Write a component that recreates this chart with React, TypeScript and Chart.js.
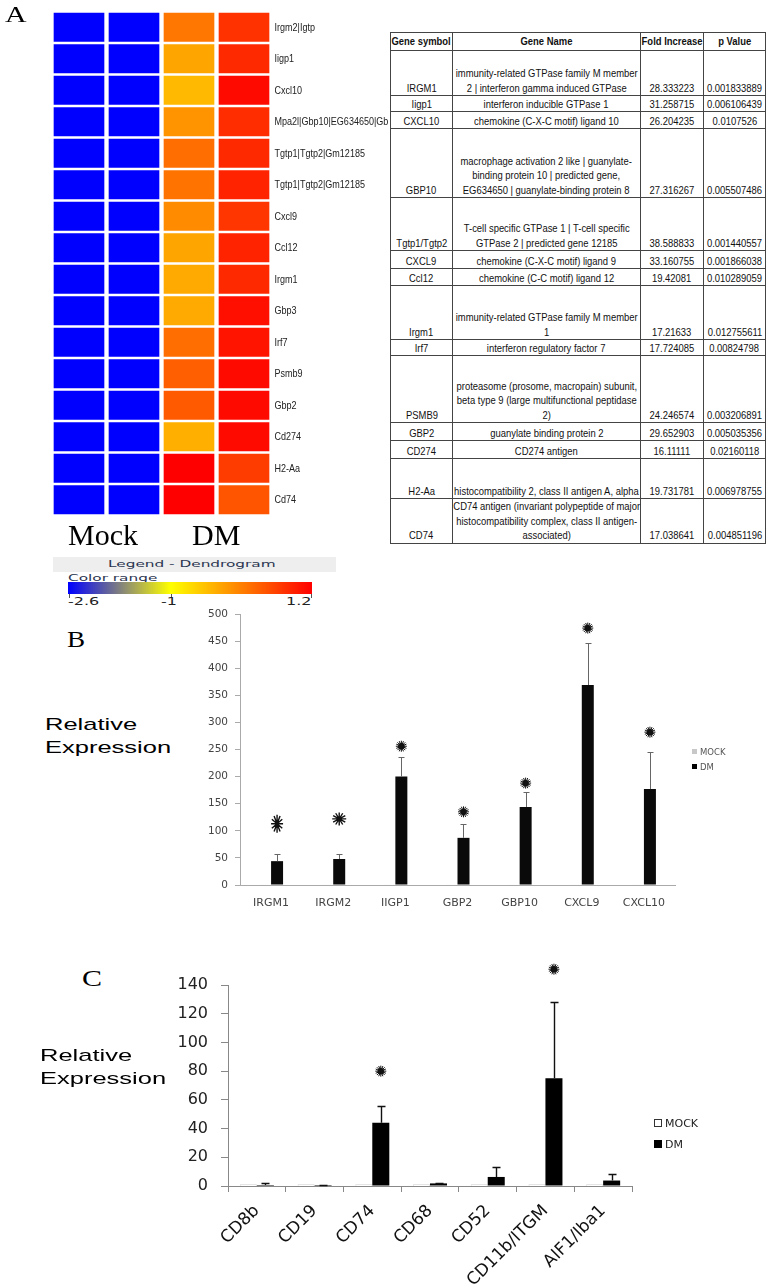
import React, { useEffect, useRef } from "react";
import { Chart, registerables } from "chart.js";

Chart.register(...registerables);

// ---------------- Panel A : heat map ----------------
const heatGenes = [
  "Irgm2|Igtp", "Iigp1", "Cxcl10", "Mpa2l|Gbp10|EG634650|Gbp8",
  "Tgtp1|Tgtp2|Gm12185", "Tgtp1|Tgtp2|Gm12185", "Cxcl9", "Ccl12",
  "Irgm1", "Gbp3", "Irf7", "Psmb9", "Gbp2", "Cd274", "H2-Aa", "Cd74",
];
const heatColumns = ["Mock 1", "Mock 2", "DM 1", "DM 2"];
const heatMock1 = [-2.6, -2.6, -2.6, -2.6, -2.6, -2.6, -2.6, -2.6, -2.6, -2.6, -2.6, -2.6, -2.6, -2.6, -2.6, -2.6];
const heatMock2 = [-2.6, -2.6, -2.6, -2.6, -2.6, -2.6, -2.6, -2.6, -2.6, -2.6, -2.6, -2.6, -2.6, -2.6, -2.6, -2.6];
const heatDM1 = [0.18, -0.22, -0.4, -0.08, 0.25, 0.21, -0.01, -0.22, -0.27, -0.27, 0.25, 0.38, 0.42, -0.31, 1.2, 1.2];
const heatDM2 = [0.77, 0.85, 1.11, 0.81, 0.85, 0.9, 0.73, 0.9, 0.85, 1.07, 1.03, 1.11, 1.11, 1.11, 0.68, 0.47];
const heatCellSpan = [1, 1, 1, 1, 1, 1, 1, 1, 1, 1, 1, 1, 1, 1, 1, 1];
const colorRangeMin = -2.6;
const colorRangeMid = -1;
const colorRangeMax = 1.2;
const colorRangeTicks = ["-2.6", "-1", "1.2"];

// ---------------- Panel A : table ----------------
const tableHeader = ["Gene symbol", "Gene Name", "Fold Increase", "p Value"];
const tableSymbols = ["IRGM1", "Iigp1", "CXCL10", "GBP10", "Tgtp1/Tgtp2", "CXCL9", "Ccl12", "Irgm1", "Irf7", "PSMB9", "GBP2", "CD274", "H2-Aa", "CD74"];
const tableNames = [
  "immunity-related GTPase family M member\n2 | interferon gamma induced GTPase",
  "interferon inducible GTPase 1",
  "chemokine (C-X-C motif) ligand 10",
  "macrophage activation 2 like | guanylate-\nbinding protein 10 | predicted gene,\nEG634650 | guanylate-binding protein 8",
  "T-cell specific GTPase 1 | T-cell specific\nGTPase 2 | predicted gene 12185",
  "chemokine (C-X-C motif) ligand 9",
  "chemokine (C-C motif) ligand 12",
  "immunity-related GTPase family M member\n1",
  "interferon regulatory factor 7",
  "proteasome (prosome, macropain) subunit,\nbeta type 9 (large multifunctional peptidase\n2)",
  "guanylate binding protein 2",
  "CD274 antigen",
  "histocompatibility 2, class II antigen A, alpha",
  "CD74 antigen (invariant polypeptide of major\nhistocompatibility complex, class II antigen-\nassociated)",
];
const tableFold = ["28.333223", "31.258715", "26.204235", "27.316267", "38.588833", "33.160755", "19.42081", "17.21633", "17.724085", "24.246574", "29.652903", "16.11111", "19.731781", "17.038641"];
const tablePValue = ["0.001833889", "0.006106439", "0.0107526", "0.005507486", "0.001440557", "0.001866038", "0.010289059", "0.012755611", "0.00824798", "0.003206891", "0.005035356", "0.02160118", "0.006978755", "0.004851196"];

// ---------------- Panel B ----------------
const genesB = ["IRGM1", "IRGM2", "IIGP1", "GBP2", "GBP10", "CXCL9", "CXCL10"];
const mockB = [1, 1, 1, 1, 1, 1, 1];
const dmB = [44, 48, 200, 87, 144, 369, 177];
const dmErrB = [13, 9, 36, 26, 28, 78, 68];
const starB = [113, 122, 256, 135, 188, 474, 282];
const seriesNames = ["MOCK", "DM"];

// ---------------- Panel C ----------------
const genesC = ["CD8b", "CD19", "CD74", "CD68", "CD52", "CD11b/ITGM", "AIF1/Iba1"];
const mockC = [1, 1, 1, 1, 1, 1, 1];
const dmC = [0.7, 0.7, 44, 1.8, 6.3, 75, 3.8];
const dmErrC = [1.3, 0.3, 11.7, 0.4, 6.9, 53, 4.5];
const starC = [null, null, 80, null, null, 151, null];

// ---------------- layout / style (not data) ----------------
const tableRowHeights = [45, 16, 17, 69, 53, 18, 17, 54, 16, 67, 18, 18, 40, 43];
const starShapesB = [
  { rx: 6, ry: 9, inner: 1.5, rays: 12, lw: 1.4 },
  { rx: 7, ry: 6.5, inner: 1.8, rays: 12, lw: 1.4 },
  { rx: 5.5, ry: 5.5, inner: 3.2, rays: 16, lw: 1 },
];
const starShapesC = [{ rx: 5.5, ry: 5.5, inner: 3.2, rays: 16, lw: 1 }];

const SERIF = "'Liberation Serif', 'DejaVu Serif', serif";
const SANS = "'Liberation Sans', Arial, sans-serif";
const DEJAVU = "'DejaVu Sans', sans-serif";
const NARROW_SCALE = 0.8;

function heatColor(v: number) {
  const t = Math.max(0, Math.min(1, (v - colorRangeMin) / (colorRangeMax - colorRangeMin)));
  const m = (colorRangeMid - colorRangeMin) / (colorRangeMax - colorRangeMin);
  let r: number, g: number, b: number;
  if (t <= m) {
    const u = t / m;
    r = 255 * u; g = 255 * u; b = 255 * (1 - u);
  } else {
    const u = (t - m) / (1 - m);
    r = 255; g = 255 * (1 - u); b = 0;
  }
  return `rgb(${Math.round(r)},${Math.round(g)},${Math.round(b)})`;
}

type Shape = { rx: number; ry: number; inner: number; rays: number; lw: number };

function drawBurst(ctx: CanvasRenderingContext2D, x: number, y: number, s: Shape) {
  ctx.save();
  ctx.strokeStyle = "#111";
  ctx.fillStyle = "#111";
  ctx.lineWidth = s.lw;
  ctx.beginPath();
  for (let k = 0; k < s.rays; k++) {
    const a = (Math.PI * 2 * k) / s.rays;
    ctx.moveTo(x, y);
    ctx.lineTo(x + s.rx * Math.cos(a), y + s.ry * Math.sin(a));
  }
  ctx.stroke();
  ctx.beginPath();
  ctx.arc(x, y, s.inner, 0, Math.PI * 2);
  ctx.fill();
  ctx.restore();
}

function makeMarks(cfg: {
  datasetIndex: number;
  errors: (number | null)[];
  stars: (number | null)[];
  shapes: Shape[];
  errColor: string;
  errWidth: number;
  cap: number;
}) {
  return {
    id: "marks",
    afterDatasetsDraw(chart: any) {
      const ctx: CanvasRenderingContext2D = chart.ctx;
      const yScale = chart.scales.y;
      const meta = chart.getDatasetMeta(cfg.datasetIndex);
      const ds = chart.data.datasets[cfg.datasetIndex];
      ctx.save();
      meta.data.forEach((bar: any, i: number) => {
        const v = ds.data[i] as number;
        const e = cfg.errors[i];
        const x = Math.round(bar.x) + 0.5;
        if (e != null) {
          const y0 = yScale.getPixelForValue(v);
          const y1 = Math.round(yScale.getPixelForValue(v + e)) + 0.5;
          ctx.strokeStyle = cfg.errColor;
          ctx.lineWidth = cfg.errWidth;
          ctx.beginPath();
          ctx.moveTo(x, y0);
          ctx.lineTo(x, y1);
          ctx.moveTo(x - cfg.cap, y1);
          ctx.lineTo(x + cfg.cap, y1);
          ctx.stroke();
        }
        const s = cfg.stars[i];
        if (s != null) {
          const shape = cfg.shapes[Math.min(i, cfg.shapes.length - 1)];
          drawBurst(ctx, bar.x, yScale.getPixelForValue(s), shape);
        }
      });
      ctx.restore();
    },
  };
}

// draws the heat-map row labels at the y scale's tick positions, in a narrow face
const rowLabelPlugin = {
  id: "rowLabels",
  afterDraw(chart: any) {
    const ctx: CanvasRenderingContext2D = chart.ctx;
    const y = chart.scales.y;
    const x0 = chart.chartArea.right + 3;
    ctx.save();
    ctx.fillStyle = "#222";
    ctx.font = `11px ${SANS}`;
    ctx.textBaseline = "middle";
    ctx.textAlign = "left";
    (chart.data.labels as string[]).forEach((lab, i) => {
      ctx.save();
      ctx.translate(x0, y.getPixelForTick(i) + 0.5);
      ctx.scale(0.82, 1);
      ctx.fillText(lab, 0, 0);
      ctx.restore();
    });
    ctx.restore();
  },
};

function useChart(build: (c: HTMLCanvasElement) => Chart) {
  const ref = useRef<HTMLCanvasElement>(null);
  useEffect(() => {
    if (!ref.current) return;
    const chart = build(ref.current);
    return () => chart.destroy();
  }, []);
  return ref;
}

function Heatmap() {
  const W = 388, H = 530;
  const ref = useChart((canvas) =>
    new Chart(canvas, {
      type: "bar",
      data: {
        labels: heatGenes,
        datasets: [heatMock1, heatMock2, heatDM1, heatDM2].map((vals, k) => ({
          label: heatColumns[k],
          data: heatCellSpan,
          backgroundColor: vals.map(heatColor),
          borderColor: "#ffffff",
          borderWidth: { left: 2.5, right: 2.5, top: 1.5, bottom: 1.5 },
          borderSkipped: false,
          barPercentage: 1,
          categoryPercentage: 1,
        })),
      },
      options: {
        indexAxis: "y",
        responsive: false,
        animation: false,
        devicePixelRatio: 1,
        layout: { padding: { left: 51.5, top: 11.5, bottom: 14.5, right: 0 } },
        plugins: { legend: { display: false }, tooltip: { enabled: false } },
        scales: {
          x: { display: false, stacked: true, min: 0, max: 4 },
          y: {
            stacked: true,
            position: "right",
            grid: { display: false, drawTicks: false },
            border: { display: false },
            ticks: { display: false, autoSkip: false },
            afterFit: (s: any) => { s.width = 116.5; },
          },
        },
      },
      plugins: [rowLabelPlugin],
    } as any)
  );
  return <canvas ref={ref} width={W} height={H} style={{ position: "absolute", left: 0, top: 0, width: W, height: H }} />;
}

function ChartB() {
  const L = 180, T = 596, W = 560, H = 324;
  const ref = useChart((canvas) =>
    new Chart(canvas, {
      type: "bar",
      data: {
        labels: genesB,
        datasets: [
          { label: seriesNames[0], data: mockB, backgroundColor: "#c8c8c8", categoryPercentage: 0.386, barPercentage: 1 },
          { label: seriesNames[1], data: dmB, backgroundColor: "#0a0a0a", categoryPercentage: 0.386, barPercentage: 1 },
        ],
      },
      options: {
        responsive: false,
        animation: false,
        devicePixelRatio: 1,
        layout: { padding: { top: 18, right: 65, left: 0, bottom: 0 } },
        plugins: { legend: { display: false }, tooltip: { enabled: false } },
        scales: {
          x: {
            grid: { display: true, drawOnChartArea: false, drawTicks: false },
            border: { color: "#aaa" },
            ticks: { font: { family: DEJAVU, size: 11 }, color: "#444", padding: 12 },
            afterFit: (s: any) => { s.height = 35; },
          },
          y: {
            min: 0,
            max: 500,
            ticks: { stepSize: 50, font: { family: DEJAVU, size: 10.5 }, color: "#444", padding: 7 },
            grid: { drawOnChartArea: false, tickLength: 5, color: "#aaa" },
            border: { color: "#aaa" },
            afterFit: (s: any) => { s.width = 60; },
          },
        },
      },
      plugins: [makeMarks({ datasetIndex: 1, errors: dmErrB, stars: starB, shapes: starShapesB, errColor: "#666", errWidth: 1, cap: 3 })],
    } as any)
  );
  return <canvas ref={ref} width={W} height={H} style={{ position: "absolute", left: L, top: T, width: W, height: H }} />;
}

function ChartC() {
  const L = 140, T = 960, W = 580, H = 324;
  const ref = useChart((canvas) =>
    new Chart(canvas, {
      type: "bar",
      data: {
        labels: genesC,
        datasets: [
          { label: seriesNames[0], data: mockC, backgroundColor: "#ffffff", borderColor: "#999", borderWidth: 1, categoryPercentage: 0.59, barPercentage: 1 },
          { label: seriesNames[1], data: dmC, backgroundColor: "#000000", categoryPercentage: 0.59, barPercentage: 1 },
        ],
      },
      options: {
        responsive: false,
        animation: false,
        devicePixelRatio: 1,
        layout: { padding: { top: 25, right: 88, left: 0, bottom: 0 } },
        plugins: { legend: { display: false }, tooltip: { enabled: false } },
        scales: {
          x: {
            grid: { display: true, drawOnChartArea: false, drawTicks: true, tickLength: 6, color: "#888" },
            border: { color: "#888" },
            ticks: { font: { family: DEJAVU, size: 17 }, color: "#111", padding: 9, minRotation: 45, maxRotation: 45, autoSkip: false },
            afterFit: (s: any) => { s.height = 98; },
          },
          y: {
            min: 0,
            max: 140,
            ticks: { stepSize: 20, font: { family: DEJAVU, size: 16 }, color: "#222", padding: 13 },
            grid: { drawOnChartArea: false, tickLength: 7, color: "#888" },
            border: { color: "#888" },
            afterFit: (s: any) => { s.width = 88; },
          },
        },
      },
      plugins: [makeMarks({ datasetIndex: 1, errors: dmErrC, stars: starC, shapes: starShapesC, errColor: "#111", errWidth: 1.4, cap: 4 })],
    } as any)
  );
  return <canvas ref={ref} width={W} height={H} style={{ position: "absolute", left: L, top: T, width: W, height: H }} />;
}

function Txt(p: { x: number; y: number; size: number; family: string; sx?: number; color?: string; lh?: number; weight?: any; children: any }) {
  return (
    <div
      style={{
        position: "absolute",
        left: p.x,
        top: p.y,
        fontSize: p.size,
        fontFamily: p.family,
        color: p.color ?? "#000",
        fontWeight: p.weight ?? "normal",
        lineHeight: p.lh ? `${p.lh}px` : 1,
        whiteSpace: "pre",
        transform: `scaleX(${p.sx ?? 1})`,
        transformOrigin: "0 0",
      }}
    >
      {p.children}
    </div>
  );
}

function CellText(p: { text: string; bold?: boolean }) {
  return (
    <div style={{ display: "flex", justifyContent: "center", width: "100%" }}>
      <span
        style={{
          display: "inline-block",
          flexShrink: 0,
          whiteSpace: "pre",
          textAlign: "center",
          transform: `scaleX(${NARROW_SCALE})`,
          transformOrigin: "50% 50%",
          fontWeight: p.bold ? "bold" : "normal",
        }}
      >
        {p.text}
      </span>
    </div>
  );
}

function GeneTable() {
  const colW = [62, 188, 63, 62];
  const cell: React.CSSProperties = {
    border: "1px solid #444",
    padding: 0,
    verticalAlign: "bottom",
    lineHeight: "14.5px",
  };
  return (
    <table
      style={{
        position: "absolute",
        left: 390,
        top: 32,
        width: 375,
        borderCollapse: "collapse",
        tableLayout: "fixed",
        fontFamily: SANS,
        fontSize: 11.8,
        color: "#111",
        background: "#fff",
      }}
    >
      <colgroup>
        {colW.map((w, i) => (
          <col key={i} style={{ width: w }} />
        ))}
      </colgroup>
      <tbody>
        <tr style={{ height: 18 }}>
          {tableHeader.map((h, i) => (
            <td key={i} style={{ ...cell, verticalAlign: "middle" }}>
              <CellText text={h} bold />
            </td>
          ))}
        </tr>
        {tableSymbols.map((s, i) => (
          <tr key={i} style={{ height: tableRowHeights[i] }}>
            <td style={cell}><CellText text={s} /></td>
            <td style={cell}><CellText text={tableNames[i]} /></td>
            <td style={cell}><CellText text={tableFold[i]} /></td>
            <td style={cell}><CellText text={tablePValue[i]} /></td>
          </tr>
        ))}
      </tbody>
    </table>
  );
}

function ColorLegend() {
  const m = ((colorRangeMid - colorRangeMin) / (colorRangeMax - colorRangeMin)) * 100;
  return (
    <>
      <div style={{ position: "absolute", left: 53, top: 557, width: 283, height: 15, background: "#eeeeee" }} />
      <Txt x={108} y={560} size={8.5} family={DEJAVU} sx={1.8} color="#2b3550">Legend - Dendrogram</Txt>
      <Txt x={68} y={574} size={8.5} family={DEJAVU} sx={1.8} color="#2b3550">Color range</Txt>
      <div
        style={{
          position: "absolute",
          left: 68,
          top: 582,
          width: 244,
          height: 12,
          background: `linear-gradient(to right, ${heatColor(colorRangeMin)} 0%, ${heatColor(colorRangeMid)} ${m}%, ${heatColor(colorRangeMax)} 100%)`,
        }}
      />
      <div style={{ position: "absolute", left: 69, top: 594, width: 1, height: 4, background: "#555" }} />
      <div style={{ position: "absolute", left: 171, top: 594, width: 1, height: 4, background: "#555" }} />
      <div style={{ position: "absolute", left: 311, top: 594, width: 1, height: 4, background: "#555" }} />
      <Txt x={68} y={597} size={10} family={DEJAVU} sx={1.6} color="#222">{colorRangeTicks[0]}</Txt>
      <Txt x={161} y={597} size={10} family={DEJAVU} sx={1.6} color="#222">{colorRangeTicks[1]}</Txt>
      <Txt x={286} y={597} size={10} family={DEJAVU} sx={1.6} color="#222">{colorRangeTicks[2]}</Txt>
    </>
  );
}

function Legend(p: { x: number; y: number; gap: number; box: number; size: number; colors: string[]; borders: string[]; textColor: string }) {
  return (
    <>
      {seriesNames.map((n, i) => (
        <div
          key={n}
          style={{
            position: "absolute",
            left: p.x,
            top: p.y + i * p.gap,
            height: p.box + 2,
            display: "flex",
            alignItems: "center",
            fontFamily: DEJAVU,
            fontSize: p.size,
            color: p.textColor,
            whiteSpace: "pre",
          }}
        >
          <span style={{ display: "inline-block", width: p.box, height: p.box, background: p.colors[i], border: p.borders[i], boxSizing: "border-box", marginRight: 3 }} />
          {n}
        </div>
      ))}
    </>
  );
}

export default function App() {
  return (
    <div style={{ position: "absolute", left: 0, top: 0, width: 770, height: 1284, background: "#fff", overflow: "hidden" }}>
      <Heatmap />
      <GeneTable />
      <ColorLegend />
      <ChartB />
      <ChartC />
      <Txt x={5} y={3} size={23} family={SERIF} sx={1.3}>A</Txt>
      <Txt x={68} y={520} size={30} family={SERIF}>Mock</Txt>
      <Txt x={192} y={520} size={30} family={SERIF}>DM</Txt>
      <Txt x={67} y={628} size={23} family={SERIF} sx={1.18}>B</Txt>
      <Txt x={45} y={713} size={17} family={SANS} sx={1.5} lh={23}>{"Relative\nExpression"}</Txt>
      <Legend x={692} y={748} gap={15} box={5} size={8.5} colors={["#c8c8c8", "#000"]} borders={["none", "none"]} textColor="#555" />
      <Txt x={82} y={966} size={24} family={SERIF} sx={1.25}>C</Txt>
      <Txt x={40} y={1044} size={17} family={SANS} sx={1.5} lh={23}>{"Relative\nExpression"}</Txt>
      <Legend x={654} y={1118} gap={21} box={8} size={11} colors={["#fff", "#000"]} borders={["1px solid #333", "none"]} textColor="#222" />
    </div>
  );
}
